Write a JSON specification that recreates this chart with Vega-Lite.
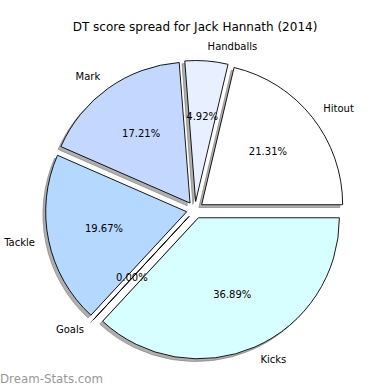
{
  "$schema": "https://vega.github.io/schema/vega-lite/v6.json",
  "width": 390,
  "height": 360,
  "autosize": "none",
  "padding": {"top": 30, "left": 0, "right": 0, "bottom": 0},
  "title": {"text": "DT score spread for Jack Hannath (2014)", "font": "DejaVu Sans", "fontSize": 12, "fontWeight": "normal", "color": "#000000", "offset": -4},
  "config": {"view": {"stroke": null}},
  "data": {"values": [
    {"stat": "Kicks", "points": 45, "pct": "36.89%", "k": 1},
    {"stat": "Goals", "points": 0, "pct": "0.00%", "k": 2},
    {"stat": "Tackle", "points": 24, "pct": "19.67%", "k": 3},
    {"stat": "Mark", "points": 21, "pct": "17.21%", "k": 4},
    {"stat": "Handballs", "points": 6, "pct": "4.92%", "k": 5},
    {"stat": "Hitout", "points": 26, "pct": "21.31%", "k": 6}
  ]},
  "encoding": {
    "theta": {"field": "points", "type": "quantitative", "stack": true, "scale": {"range": [1.5708, 7.854]}},
    "order": {"field": "k", "type": "quantitative"}
  },
  "layer": [
    {
      "mark": {"type": "arc", "radius": 141, "fill": "#7a7a7a", "fillOpacity": 0.6, "stroke": "#7a7a7a", "strokeOpacity": 0.6, "strokeWidth": 1,
        "xOffset": {"expr": "8.5*sin((scale('theta', datum.points_start)+scale('theta', datum.points_end))/2) - 2.8"},
        "yOffset": {"expr": "-8.5*cos((scale('theta', datum.points_start)+scale('theta', datum.points_end))/2) + 2.8"}}
    },
    {
      "mark": {"type": "arc", "radius": 141, "stroke": "#000000", "strokeWidth": 0.9,
        "xOffset": {"expr": "8.5*sin((scale('theta', datum.points_start)+scale('theta', datum.points_end))/2)"},
        "yOffset": {"expr": "-8.5*cos((scale('theta', datum.points_start)+scale('theta', datum.points_end))/2)"}},
      "encoding": {
        "color": {"field": "stat", "type": "nominal", "legend": null,
          "scale": {"domain": ["Kicks", "Goals", "Tackle", "Mark", "Handballs", "Hitout"],
                    "range": ["#d8ffff", "#d0e0ff", "#b4d8ff", "#c4d8ff", "#e8f0ff", "#ffffff"]}}
      }
    },
    {
      "mark": {"type": "text", "radius": 155, "font": "DejaVu Sans", "fontSize": 10, "color": "#000000", "baseline": "middle",
        "align": {"expr": "sin((scale('theta', datum.points_start)+scale('theta', datum.points_end))/2) > 0 ? 'left' : 'right'"},
        "xOffset": {"expr": "8.5*sin((scale('theta', datum.points_start)+scale('theta', datum.points_end))/2)"},
        "yOffset": {"expr": "-8.5*cos((scale('theta', datum.points_start)+scale('theta', datum.points_end))/2)"}},
      "encoding": {"text": {"field": "stat", "type": "nominal"}}
    },
    {
      "mark": {"type": "text", "radius": 84.5, "font": "DejaVu Sans", "fontSize": 10, "color": "#000000", "baseline": "middle", "align": "center",
        "xOffset": {"expr": "8.5*sin((scale('theta', datum.points_start)+scale('theta', datum.points_end))/2)"},
        "yOffset": {"expr": "-8.5*cos((scale('theta', datum.points_start)+scale('theta', datum.points_end))/2)"}},
      "encoding": {"text": {"field": "pct", "type": "nominal"}}
    },
    {
      "data": {"values": [{"mark": "Dream-Stats.com"}]},
      "mark": {"type": "text", "font": "DejaVu Sans", "fontSize": 11.8, "fontWeight": "normal", "color": "#999999", "align": "left", "baseline": "middle", "x": 0, "y": {"expr": "height - 11"}},
      "encoding": {"text": {"field": "mark", "type": "nominal"}, "theta": null, "order": null}
    }
  ]
}
